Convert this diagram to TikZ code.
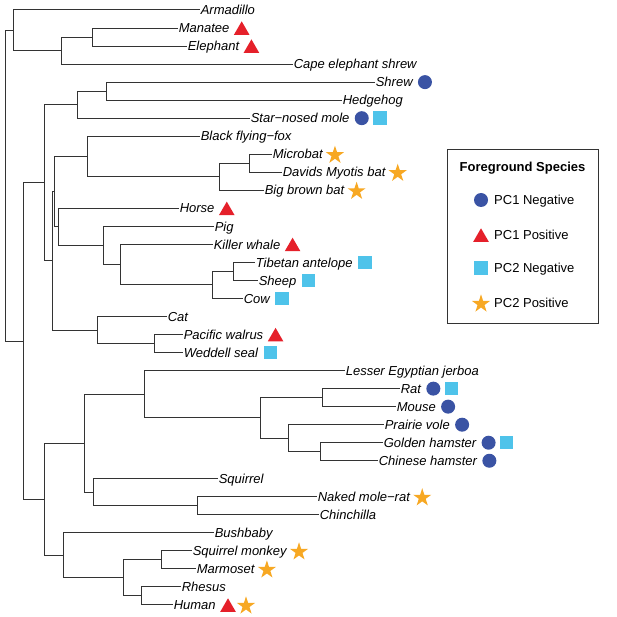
\documentclass[tikz,border=0pt]{standalone}
\usepackage{fontspec}
\setmainfont{Liberation Sans}
\usetikzlibrary{positioning,shapes.geometric}
\definecolor{pcblue}{HTML}{3A53A4}
\definecolor{pcred}{HTML}{E5202A}
\definecolor{pccyan}{HTML}{4EC3EA}
\definecolor{pcorange}{HTML}{F7A823}
\begin{document}
\begin{tikzpicture}[x=1pt,y=-1pt]
    \tikzstyle{taxon}=[anchor=west,inner sep=0.6pt,text height=9.3pt,text depth=0pt,font=\fontsize{13}{15}\selectfont\itshape]
    \tikzstyle{keytext}=[anchor=west,inner sep=0pt,text height=9.3pt,text depth=0pt,font=\fontsize{13}{15}\selectfont]
    \tikzstyle{branch}=[draw=black!80,line width=1pt]
    \tikzstyle{neg1}=[circle,fill=pcblue,inner sep=0pt,minimum size=14pt]
    \tikzstyle{pos1}=[regular polygon,regular polygon sides=3,fill=pcred,inner sep=0pt,minimum size=18pt,yshift=-2.3pt]
    \tikzstyle{neg2}=[rectangle,fill=pccyan,inner sep=0pt,minimum size=13.5pt]
    \tikzstyle{pos2}=[star,star points=5,star point ratio=2.618,fill=pcorange,inner sep=0pt,minimum size=19pt,yshift=-0.9pt]

    \useasboundingbox (0,0) rectangle (617,617);

    % tree: one row per species
    \begin{scope}[yshift=-10pt,y=-18.03pt]
    \node[taxon] (arma) at (200,0) {Armadillo};
    \node[taxon] (mana) at (178,1) {Manatee};
    \node[taxon] (elep) at (187,2) {Elephant};
    \node[taxon] (cape) at (293,3) {Cape elephant shrew};
    \node[taxon] (shre) at (375,4) {Shrew};
    \node[taxon] (hedg) at (342,5) {Hedgehog};
    \node[taxon] (star) at (250,6) {Star−nosed mole};
    \node[taxon] (bffx) at (200,7) {Black flying−fox};
    \node[taxon] (micr) at (272,8) {Microbat};
    \node[taxon] (davi) at (282,9) {Davids Myotis bat};
    \node[taxon] (bigb) at (264,10) {Big brown bat};
    \node[taxon] (hors) at (179,11) {Horse};
    \node[taxon] (pig) at (214,12) {Pig};
    \node[taxon] (kill) at (213,13) {Killer whale};
    \node[taxon] (tibe) at (255,14) {Tibetan antelope};
    \node[taxon] (shee) at (258,15) {Sheep};
    \node[taxon] (cow) at (243,16) {Cow};
    \node[taxon] (cat) at (167,17) {Cat};
    \node[taxon] (walr) at (183,18) {Pacific walrus};
    \node[taxon] (wedd) at (183,19) {Weddell seal};
    \node[taxon] (jerb) at (345,20) {Lesser Egyptian jerboa};
    \node[taxon] (rat) at (400,21) {Rat};
    \node[taxon] (mous) at (396,22) {Mouse};
    \node[taxon] (vole) at (384,23) {Prairie vole};
    \node[taxon] (gold) at (383,24) {Golden hamster};
    \node[taxon] (chin) at (378,25) {Chinese hamster};
    \node[taxon] (squi) at (218,26) {Squirrel};
    \node[taxon] (nmr) at (317,27) {Naked mole−rat};
    \node[taxon] (chla) at (319,28) {Chinchilla};
    \node[taxon] (bush) at (214,29) {Bushbaby};
    \node[taxon] (sqmo) at (192,30) {Squirrel monkey};
    \node[taxon] (marm) at (196,31) {Marmoset};
    \node[taxon] (rhes) at (181,32) {Rhesus};
    \node[taxon] (huma) at (173,33) {Human};

    \coordinate (pae) at (92,1.5);
    \coordinate (afro) at (61,2.25);
    \coordinate (atl) at (13,1.125);
    \coordinate (shh) at (106,4.5);
    \coordinate (eul) at (77,5.25);
    \coordinate (myo) at (249,8.5);
    \coordinate (ves) at (219,9.25);
    \coordinate (chi) at (87,8.125);
    \coordinate (bov) at (233,14.5);
    \coordinate (bos) at (212,15.25);
    \coordinate (cet) at (120,14.125);
    \coordinate (art) at (103,13.0625);
    \coordinate (eun) at (58,12.031);
    \coordinate (pin) at (154,18.5);
    \coordinate (carn) at (97,17.75);
    \coordinate (sce) at (54,10.078);
    \coordinate (scr) at (52,13.914);
    \coordinate (lau) at (44,9.582);
    \coordinate (mus) at (322,21.5);
    \coordinate (ham) at (320,24.5);
    \coordinate (cric) at (288,23.75);
    \coordinate (muro) at (260,22.625);
    \coordinate (myom) at (144,21.3125);
    \coordinate (hyst) at (197,27.5);
    \coordinate (sciu) at (93,26.75);
    \coordinate (glir) at (84,24.031);
    \coordinate (nwm) at (161,30.5);
    \coordinate (cata) at (141,32.5);
    \coordinate (anth) at (123,31.5);
    \coordinate (euar) at (63,30.25);
    \coordinate (euag) at (44,27.141);
    \coordinate (bor) at (23,18.361);
    \coordinate (root) at (5,9.743);

    \draw[branch] (root) |- (atl) (root) |- (bor);
    \draw[branch] (atl) |- (arma) (atl) |- (afro);
    \draw[branch] (afro) |- (pae) (afro) |- (cape);
    \draw[branch] (pae) |- (mana) (pae) |- (elep);
    \draw[branch] (bor) |- (lau) (bor) |- (euag);
    \draw[branch] (lau) |- (eul) (lau) |- (scr);
    \draw[branch] (eul) |- (shh) (eul) |- (star);
    \draw[branch] (shh) |- (shre) (shh) |- (hedg);
    \draw[branch] (scr) |- (sce) (scr) |- (carn);
    \draw[branch] (sce) |- (chi) (sce) |- (eun);
    \draw[branch] (chi) |- (bffx) (chi) |- (ves);
    \draw[branch] (ves) |- (myo) (ves) |- (bigb);
    \draw[branch] (myo) |- (micr) (myo) |- (davi);
    \draw[branch] (eun) |- (hors) (eun) |- (art);
    \draw[branch] (art) |- (pig) (art) |- (cet);
    \draw[branch] (cet) |- (kill) (cet) |- (bos);
    \draw[branch] (bos) |- (bov) (bos) |- (cow);
    \draw[branch] (bov) |- (tibe) (bov) |- (shee);
    \draw[branch] (carn) |- (cat) (carn) |- (pin);
    \draw[branch] (pin) |- (walr) (pin) |- (wedd);
    \draw[branch] (euag) |- (glir) (euag) |- (euar);
    \draw[branch] (glir) |- (myom) (glir) |- (sciu);
    \draw[branch] (myom) |- (jerb) (myom) |- (muro);
    \draw[branch] (muro) |- (mus) (muro) |- (cric);
    \draw[branch] (mus) |- (rat) (mus) |- (mous);
    \draw[branch] (cric) |- (vole) (cric) |- (ham);
    \draw[branch] (ham) |- (gold) (ham) |- (chin);
    \draw[branch] (sciu) |- (squi) (sciu) |- (hyst);
    \draw[branch] (hyst) |- (nmr) (hyst) |- (chla);
    \draw[branch] (euar) |- (bush) (euar) |- (anth);
    \draw[branch] (anth) |- (nwm) (anth) |- (cata);
    \draw[branch] (nwm) |- (sqmo) (nwm) |- (marm);
    \draw[branch] (cata) |- (rhes) (cata) |- (huma);

    % foreground marks
    \node[pos1] (manam) at ([xshift=11.5pt]mana.east) {};
    \node[pos1] (elepm) at ([xshift=11.5pt]elep.east) {};
    \node[neg1] (shrem) at ([xshift=11.5pt]shre.east) {};
    \node[neg1] (starm) at ([xshift=11.5pt]star.east) {};
    \node[neg2] (starn) at ([xshift=29.5pt]star.east) {};
    \node[pos2] (micrm) at ([xshift=11.5pt]micr.east) {};
    \node[pos2] (davim) at ([xshift=11.5pt]davi.east) {};
    \node[pos2] (bigbm) at ([xshift=11.5pt]bigb.east) {};
    \node[pos1] (horsm) at ([xshift=11.5pt]hors.east) {};
    \node[pos1] (killm) at ([xshift=11.5pt]kill.east) {};
    \node[neg2] (tibem) at ([xshift=11.5pt]tibe.east) {};
    \node[neg2] (sheem) at ([xshift=11.5pt]shee.east) {};
    \node[neg2] (cowm) at ([xshift=11.5pt]cow.east) {};
    \node[pos1] (walrm) at ([xshift=11.5pt]walr.east) {};
    \node[neg2] (weddm) at ([xshift=11.5pt]wedd.east) {};
    \node[neg1] (ratm) at ([xshift=11.5pt]rat.east) {};
    \node[neg2] (ratn) at ([xshift=29.5pt]rat.east) {};
    \node[neg1] (mousm) at ([xshift=11.5pt]mous.east) {};
    \node[neg1] (volem) at ([xshift=11.5pt]vole.east) {};
    \node[neg1] (goldm) at ([xshift=11.5pt]gold.east) {};
    \node[neg2] (goldn) at ([xshift=29.5pt]gold.east) {};
    \node[neg1] (chinm) at ([xshift=11.5pt]chin.east) {};
    \node[pos2] (nmrm) at ([xshift=11.5pt]nmr.east) {};
    \node[pos2] (sqmom) at ([xshift=11.5pt]sqmo.east) {};
    \node[pos2] (marmm) at ([xshift=11.5pt]marm.east) {};
    \node[pos1] (humam) at ([xshift=11.5pt]huma.east) {};
    \node[pos2] (human) at ([xshift=29.5pt]huma.east) {};
    \end{scope}

    % legend
    \draw[draw=black!80,line width=1pt] (447,150) rectangle (598,323);
    \node[inner sep=0pt,font=\fontsize{13}{15}\selectfont\bfseries] (ftitle) at (522.5,168) {Foreground Species};
    \node[neg1] (kneg1) at (481,200) {};
    \node[keytext] (kneg1t) at (494,200) {PC1 Negative};
    \node[pos1] (kpos1) at (481,235) {};
    \node[keytext] (kpos1t) at (494,235) {PC1 Positive};
    \node[neg2] (kneg2) at (481,268) {};
    \node[keytext] (kneg2t) at (494,268) {PC2 Negative};
    \node[pos2] (kpos2) at (481,303) {};
    \node[keytext] (kpos2t) at (494,303) {PC2 Positive};
\end{tikzpicture}
\end{document}
